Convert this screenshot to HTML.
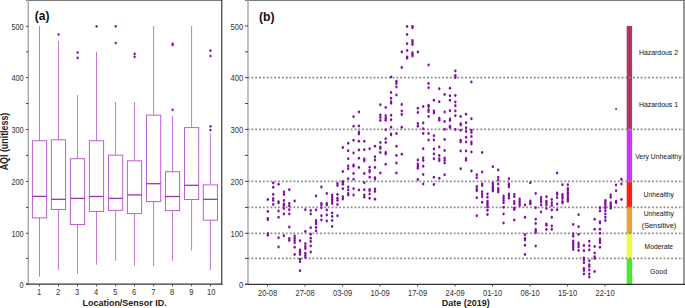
<!DOCTYPE html>
<html><head><meta charset="utf-8"><style>
html,body{margin:0;padding:0;background:#fff;}
body{width:685px;height:308px;overflow:hidden;}
svg{display:block;font-family:"Liberation Sans", sans-serif;}
</style></head><body>
<svg width="685" height="308" viewBox="0 0 685 308">
<rect width="685" height="308" fill="#fff"/>
<line x1="26" y1="0.5" x2="222.4" y2="0.5" stroke="#7a7a7a" stroke-width="1"/>
<line x1="28.3" y1="0" x2="28.3" y2="284.5" stroke="#a6a6a6" stroke-width="1.4"/>
<line x1="221.7" y1="0" x2="221.7" y2="284.8" stroke="#555" stroke-width="1.4"/>
<line x1="26" y1="284.1" x2="222.4" y2="284.1" stroke="#333" stroke-width="1.3"/>
<line x1="26" y1="284.30" x2="28.3" y2="284.30" stroke="#444" stroke-width="1"/>
<text x="23.7" y="288.20" text-anchor="end" font-size="8.7" fill="#333" textLength="4.10" lengthAdjust="spacingAndGlyphs">0</text>
<line x1="26" y1="258.45" x2="28.3" y2="258.45" stroke="#444" stroke-width="1"/>
<line x1="26" y1="233.30" x2="28.3" y2="233.30" stroke="#444" stroke-width="1"/>
<text x="23.7" y="237.20" text-anchor="end" font-size="8.7" fill="#333" textLength="12.30" lengthAdjust="spacingAndGlyphs">100</text>
<line x1="26" y1="207.45" x2="28.3" y2="207.45" stroke="#444" stroke-width="1"/>
<line x1="26" y1="181.40" x2="28.3" y2="181.40" stroke="#444" stroke-width="1"/>
<text x="23.7" y="185.30" text-anchor="end" font-size="8.7" fill="#333" textLength="12.30" lengthAdjust="spacingAndGlyphs">200</text>
<line x1="26" y1="155.40" x2="28.3" y2="155.40" stroke="#444" stroke-width="1"/>
<line x1="26" y1="129.45" x2="28.3" y2="129.45" stroke="#444" stroke-width="1"/>
<text x="23.7" y="133.35" text-anchor="end" font-size="8.7" fill="#333" textLength="12.30" lengthAdjust="spacingAndGlyphs">300</text>
<line x1="26" y1="103.50" x2="28.3" y2="103.50" stroke="#444" stroke-width="1"/>
<line x1="26" y1="77.55" x2="28.3" y2="77.55" stroke="#444" stroke-width="1"/>
<text x="23.7" y="81.45" text-anchor="end" font-size="8.7" fill="#333" textLength="12.30" lengthAdjust="spacingAndGlyphs">400</text>
<line x1="26" y1="51.80" x2="28.3" y2="51.80" stroke="#444" stroke-width="1"/>
<line x1="26" y1="26.30" x2="28.3" y2="26.30" stroke="#444" stroke-width="1"/>
<text x="23.7" y="30.20" text-anchor="end" font-size="8.7" fill="#333" textLength="12.30" lengthAdjust="spacingAndGlyphs">500</text>
<line x1="39.5" y1="284.1" x2="39.5" y2="286.3" stroke="#444" stroke-width="1"/>
<text x="39.15" y="295.2" text-anchor="middle" font-size="8.4" fill="#333" textLength="4.20" lengthAdjust="spacingAndGlyphs">1</text>
<line x1="58.5" y1="284.1" x2="58.5" y2="286.3" stroke="#444" stroke-width="1"/>
<text x="58.15" y="295.2" text-anchor="middle" font-size="8.4" fill="#333" textLength="4.20" lengthAdjust="spacingAndGlyphs">2</text>
<line x1="77.5" y1="284.1" x2="77.5" y2="286.3" stroke="#444" stroke-width="1"/>
<text x="77.15" y="295.2" text-anchor="middle" font-size="8.4" fill="#333" textLength="4.20" lengthAdjust="spacingAndGlyphs">3</text>
<line x1="96.5" y1="284.1" x2="96.5" y2="286.3" stroke="#444" stroke-width="1"/>
<text x="96.15" y="295.2" text-anchor="middle" font-size="8.4" fill="#333" textLength="4.20" lengthAdjust="spacingAndGlyphs">4</text>
<line x1="115.6" y1="284.1" x2="115.6" y2="286.3" stroke="#444" stroke-width="1"/>
<text x="115.25" y="295.2" text-anchor="middle" font-size="8.4" fill="#333" textLength="4.20" lengthAdjust="spacingAndGlyphs">5</text>
<line x1="134.5" y1="284.1" x2="134.5" y2="286.3" stroke="#444" stroke-width="1"/>
<text x="134.15" y="295.2" text-anchor="middle" font-size="8.4" fill="#333" textLength="4.20" lengthAdjust="spacingAndGlyphs">6</text>
<line x1="153.6" y1="284.1" x2="153.6" y2="286.3" stroke="#444" stroke-width="1"/>
<text x="153.25" y="295.2" text-anchor="middle" font-size="8.4" fill="#333" textLength="4.20" lengthAdjust="spacingAndGlyphs">7</text>
<line x1="172.5" y1="284.1" x2="172.5" y2="286.3" stroke="#444" stroke-width="1"/>
<text x="172.15" y="295.2" text-anchor="middle" font-size="8.4" fill="#333" textLength="4.20" lengthAdjust="spacingAndGlyphs">8</text>
<line x1="191.6" y1="284.1" x2="191.6" y2="286.3" stroke="#444" stroke-width="1"/>
<text x="191.25" y="295.2" text-anchor="middle" font-size="8.4" fill="#333" textLength="4.20" lengthAdjust="spacingAndGlyphs">9</text>
<line x1="210.4" y1="284.1" x2="210.4" y2="286.3" stroke="#444" stroke-width="1"/>
<text x="211.25" y="295.2" text-anchor="middle" font-size="8.4" fill="#333" textLength="8.40" lengthAdjust="spacingAndGlyphs">10</text>
<line x1="39.5" y1="26.1" x2="39.5" y2="140.4" stroke="#c27ad4" stroke-width="1"/>
<line x1="39.5" y1="217.6" x2="39.5" y2="276.7" stroke="#c27ad4" stroke-width="1"/>
<rect x="32.40" y="140.70" width="14.2" height="77.20" fill="none" stroke="#b960cd" stroke-width="1"/>
<line x1="32.40" y1="196.40" x2="46.60" y2="196.40" stroke="#9434b4" stroke-width="1.3"/>
<line x1="58.5" y1="40.9" x2="58.5" y2="139.5" stroke="#c27ad4" stroke-width="1"/>
<line x1="58.5" y1="209.2" x2="58.5" y2="269.8" stroke="#c27ad4" stroke-width="1"/>
<rect x="51.40" y="139.80" width="14.2" height="69.70" fill="none" stroke="#b960cd" stroke-width="1"/>
<line x1="51.40" y1="199.30" x2="65.60" y2="199.30" stroke="#9434b4" stroke-width="1.3"/>
<ellipse cx="58.60" cy="34.5" rx="1.15" ry="1.35" fill="#8210a2"/>
<line x1="77.5" y1="95.1" x2="77.5" y2="158.4" stroke="#c27ad4" stroke-width="1"/>
<line x1="77.5" y1="224.2" x2="77.5" y2="273.7" stroke="#c27ad4" stroke-width="1"/>
<rect x="70.40" y="158.70" width="14.2" height="65.80" fill="none" stroke="#b960cd" stroke-width="1"/>
<line x1="70.40" y1="198.40" x2="84.60" y2="198.40" stroke="#9434b4" stroke-width="1.3"/>
<ellipse cx="77.60" cy="52.5" rx="1.15" ry="1.35" fill="#8210a2"/>
<ellipse cx="77.60" cy="57.9" rx="1.15" ry="1.35" fill="#8210a2"/>
<line x1="96.5" y1="51.9" x2="96.5" y2="140.4" stroke="#c27ad4" stroke-width="1"/>
<line x1="96.5" y1="211.1" x2="96.5" y2="264.7" stroke="#c27ad4" stroke-width="1"/>
<rect x="89.40" y="140.70" width="14.2" height="70.70" fill="none" stroke="#b960cd" stroke-width="1"/>
<line x1="89.40" y1="196.50" x2="103.60" y2="196.50" stroke="#9434b4" stroke-width="1.3"/>
<ellipse cx="96.60" cy="26.3" rx="1.15" ry="1.35" fill="#8210a2"/>
<line x1="115.6" y1="102.0" x2="115.6" y2="154.8" stroke="#c27ad4" stroke-width="1"/>
<line x1="115.6" y1="210.1" x2="115.6" y2="260.9" stroke="#c27ad4" stroke-width="1"/>
<rect x="108.50" y="155.10" width="14.2" height="55.30" fill="none" stroke="#b960cd" stroke-width="1"/>
<line x1="108.50" y1="198.40" x2="122.70" y2="198.40" stroke="#9434b4" stroke-width="1.3"/>
<ellipse cx="115.70" cy="26.3" rx="1.15" ry="1.35" fill="#8210a2"/>
<ellipse cx="115.70" cy="43.0" rx="1.15" ry="1.35" fill="#8210a2"/>
<line x1="134.5" y1="102.0" x2="134.5" y2="160.5" stroke="#c27ad4" stroke-width="1"/>
<line x1="134.5" y1="213.3" x2="134.5" y2="265.7" stroke="#c27ad4" stroke-width="1"/>
<rect x="127.40" y="160.80" width="14.2" height="52.80" fill="none" stroke="#b960cd" stroke-width="1"/>
<line x1="127.40" y1="194.90" x2="141.60" y2="194.90" stroke="#9434b4" stroke-width="1.3"/>
<ellipse cx="134.60" cy="53.9" rx="1.15" ry="1.35" fill="#8210a2"/>
<ellipse cx="134.60" cy="56.8" rx="1.15" ry="1.35" fill="#8210a2"/>
<line x1="153.6" y1="26.1" x2="153.6" y2="114.8" stroke="#c27ad4" stroke-width="1"/>
<line x1="153.6" y1="201.3" x2="153.6" y2="266.0" stroke="#c27ad4" stroke-width="1"/>
<rect x="146.50" y="115.10" width="14.2" height="86.50" fill="none" stroke="#b960cd" stroke-width="1"/>
<line x1="146.50" y1="183.70" x2="160.70" y2="183.70" stroke="#9434b4" stroke-width="1.3"/>
<line x1="172.5" y1="115.8" x2="172.5" y2="171.4" stroke="#c27ad4" stroke-width="1"/>
<line x1="172.5" y1="210.3" x2="172.5" y2="260.9" stroke="#c27ad4" stroke-width="1"/>
<rect x="165.40" y="171.70" width="14.2" height="38.90" fill="none" stroke="#b960cd" stroke-width="1"/>
<line x1="165.40" y1="196.50" x2="179.60" y2="196.50" stroke="#9434b4" stroke-width="1.3"/>
<ellipse cx="172.60" cy="43.8" rx="1.15" ry="1.35" fill="#8210a2"/>
<ellipse cx="172.60" cy="45.0" rx="1.15" ry="1.35" fill="#8210a2"/>
<ellipse cx="172.60" cy="109.8" rx="1.15" ry="1.35" fill="#8210a2"/>
<line x1="191.6" y1="26.1" x2="191.6" y2="127.3" stroke="#c27ad4" stroke-width="1"/>
<line x1="191.6" y1="199.2" x2="191.6" y2="250.6" stroke="#c27ad4" stroke-width="1"/>
<rect x="184.50" y="127.60" width="14.2" height="71.90" fill="none" stroke="#b960cd" stroke-width="1"/>
<line x1="184.50" y1="185.30" x2="198.70" y2="185.30" stroke="#9434b4" stroke-width="1.3"/>
<line x1="210.4" y1="133.3" x2="210.4" y2="184.6" stroke="#c27ad4" stroke-width="1"/>
<line x1="210.4" y1="219.9" x2="210.4" y2="270.1" stroke="#c27ad4" stroke-width="1"/>
<rect x="203.30" y="184.90" width="14.2" height="35.30" fill="none" stroke="#b960cd" stroke-width="1"/>
<line x1="203.30" y1="199.30" x2="217.50" y2="199.30" stroke="#9434b4" stroke-width="1.3"/>
<ellipse cx="210.50" cy="50.7" rx="1.15" ry="1.35" fill="#8210a2"/>
<ellipse cx="210.50" cy="56.0" rx="1.15" ry="1.35" fill="#8210a2"/>
<ellipse cx="210.50" cy="126.3" rx="1.15" ry="1.35" fill="#8210a2"/>
<ellipse cx="210.50" cy="130.1" rx="1.15" ry="1.35" fill="#8210a2"/>
<text x="34.8" y="19.6" font-size="12" font-weight="bold" fill="#111" textLength="14.6" lengthAdjust="spacingAndGlyphs">(a)</text>
<text x="82.5" y="306.1" font-size="9.8" font-weight="bold" fill="#222" textLength="84.2" lengthAdjust="spacingAndGlyphs">Location/Sensor ID.</text>
<text transform="translate(7.5,170.3) rotate(-90)" x="0" y="0" font-size="10" font-weight="bold" fill="#222" textLength="57.6" lengthAdjust="spacingAndGlyphs">AQI (unitless)</text>
<line x1="245" y1="0.5" x2="685" y2="0.5" stroke="#7a7a7a" stroke-width="1"/>
<line x1="248" y1="0" x2="248" y2="284.5" stroke="#a6a6a6" stroke-width="1.4"/>
<line x1="684" y1="0" x2="684" y2="285" stroke="#808080" stroke-width="1.6"/>
<rect x="626.7" y="258.45" width="5.4" height="25.85" fill="#44ee22"/>
<rect x="626.7" y="233.30" width="5.4" height="25.15" fill="#eeff33"/>
<rect x="626.7" y="207.45" width="5.4" height="25.85" fill="#eea030"/>
<rect x="626.7" y="181.40" width="5.4" height="26.05" fill="#ff2010"/>
<rect x="626.7" y="129.45" width="5.4" height="51.95" fill="#cc33ff"/>
<rect x="626.7" y="25.95" width="5.4" height="103.50" fill="#b33366"/>
<line x1="247.6" y1="258.45" x2="683.2" y2="258.45" stroke="#8e8e8e" stroke-width="1.7" stroke-dasharray="1.9 1.9155"/>
<line x1="247.6" y1="233.30" x2="683.2" y2="233.30" stroke="#8e8e8e" stroke-width="1.7" stroke-dasharray="1.9 1.9155"/>
<line x1="247.6" y1="207.45" x2="683.2" y2="207.45" stroke="#8e8e8e" stroke-width="1.7" stroke-dasharray="1.9 1.9155"/>
<line x1="247.6" y1="181.40" x2="683.2" y2="181.40" stroke="#8e8e8e" stroke-width="1.7" stroke-dasharray="1.9 1.9155"/>
<line x1="247.6" y1="129.45" x2="683.2" y2="129.45" stroke="#8e8e8e" stroke-width="1.7" stroke-dasharray="1.9 1.9155"/>
<line x1="247.6" y1="77.64" x2="683.2" y2="77.64" stroke="#8e8e8e" stroke-width="1.7" stroke-dasharray="1.9 1.9155"/>
<line x1="245" y1="284.4" x2="685" y2="284.4" stroke="#333" stroke-width="1.3"/>
<line x1="245" y1="284.30" x2="248" y2="284.30" stroke="#444" stroke-width="1"/>
<text x="243.1" y="287.90" text-anchor="end" font-size="8.2" fill="#333" textLength="4.20" lengthAdjust="spacingAndGlyphs">0</text>
<line x1="245" y1="258.45" x2="248" y2="258.45" stroke="#444" stroke-width="1"/>
<line x1="245" y1="233.30" x2="248" y2="233.30" stroke="#444" stroke-width="1"/>
<text x="243.1" y="236.90" text-anchor="end" font-size="8.2" fill="#333" textLength="12.60" lengthAdjust="spacingAndGlyphs">100</text>
<line x1="245" y1="207.45" x2="248" y2="207.45" stroke="#444" stroke-width="1"/>
<line x1="245" y1="181.40" x2="248" y2="181.40" stroke="#444" stroke-width="1"/>
<text x="243.1" y="185.00" text-anchor="end" font-size="8.2" fill="#333" textLength="12.60" lengthAdjust="spacingAndGlyphs">200</text>
<line x1="245" y1="155.40" x2="248" y2="155.40" stroke="#444" stroke-width="1"/>
<line x1="245" y1="129.45" x2="248" y2="129.45" stroke="#444" stroke-width="1"/>
<text x="243.1" y="133.05" text-anchor="end" font-size="8.2" fill="#333" textLength="12.60" lengthAdjust="spacingAndGlyphs">300</text>
<line x1="245" y1="103.50" x2="248" y2="103.50" stroke="#444" stroke-width="1"/>
<line x1="245" y1="77.64" x2="248" y2="77.64" stroke="#444" stroke-width="1"/>
<text x="243.1" y="81.24" text-anchor="end" font-size="8.2" fill="#333" textLength="12.60" lengthAdjust="spacingAndGlyphs">400</text>
<line x1="245" y1="51.80" x2="248" y2="51.80" stroke="#444" stroke-width="1"/>
<line x1="245" y1="25.95" x2="248" y2="25.95" stroke="#444" stroke-width="1"/>
<text x="243.1" y="29.55" text-anchor="end" font-size="8.2" fill="#333" textLength="12.60" lengthAdjust="spacingAndGlyphs">500</text>
<line x1="267.60" y1="284.4" x2="267.60" y2="286.5" stroke="#444" stroke-width="1"/>
<text x="267.60" y="295.6" text-anchor="middle" font-size="8.6" fill="#333" textLength="19.3" lengthAdjust="spacingAndGlyphs">20-08</text>
<line x1="305.10" y1="284.4" x2="305.10" y2="286.5" stroke="#444" stroke-width="1"/>
<text x="305.10" y="295.6" text-anchor="middle" font-size="8.6" fill="#333" textLength="19.3" lengthAdjust="spacingAndGlyphs">27-08</text>
<line x1="342.60" y1="284.4" x2="342.60" y2="286.5" stroke="#444" stroke-width="1"/>
<text x="342.60" y="295.6" text-anchor="middle" font-size="8.6" fill="#333" textLength="19.3" lengthAdjust="spacingAndGlyphs">03-09</text>
<line x1="380.10" y1="284.4" x2="380.10" y2="286.5" stroke="#444" stroke-width="1"/>
<text x="380.10" y="295.6" text-anchor="middle" font-size="8.6" fill="#333" textLength="19.3" lengthAdjust="spacingAndGlyphs">10-09</text>
<line x1="417.60" y1="284.4" x2="417.60" y2="286.5" stroke="#444" stroke-width="1"/>
<text x="417.60" y="295.6" text-anchor="middle" font-size="8.6" fill="#333" textLength="19.3" lengthAdjust="spacingAndGlyphs">17-09</text>
<line x1="455.10" y1="284.4" x2="455.10" y2="286.5" stroke="#444" stroke-width="1"/>
<text x="455.10" y="295.6" text-anchor="middle" font-size="8.6" fill="#333" textLength="19.3" lengthAdjust="spacingAndGlyphs">24-09</text>
<line x1="492.59" y1="284.4" x2="492.59" y2="286.5" stroke="#444" stroke-width="1"/>
<text x="492.59" y="295.6" text-anchor="middle" font-size="8.6" fill="#333" textLength="19.3" lengthAdjust="spacingAndGlyphs">01-10</text>
<line x1="530.09" y1="284.4" x2="530.09" y2="286.5" stroke="#444" stroke-width="1"/>
<text x="530.09" y="295.6" text-anchor="middle" font-size="8.6" fill="#333" textLength="19.3" lengthAdjust="spacingAndGlyphs">08-10</text>
<line x1="567.59" y1="284.4" x2="567.59" y2="286.5" stroke="#444" stroke-width="1"/>
<text x="567.59" y="295.6" text-anchor="middle" font-size="8.6" fill="#333" textLength="19.3" lengthAdjust="spacingAndGlyphs">15-10</text>
<line x1="605.09" y1="284.4" x2="605.09" y2="286.5" stroke="#444" stroke-width="1"/>
<text x="605.09" y="295.6" text-anchor="middle" font-size="8.6" fill="#333" textLength="19.3" lengthAdjust="spacingAndGlyphs">22-10</text>
<text x="258.9" y="20.9" font-size="12" font-weight="bold" fill="#111" textLength="15.6" lengthAdjust="spacingAndGlyphs">(b)</text>
<text x="441.8" y="306.1" font-size="9.8" font-weight="bold" fill="#222" textLength="48" lengthAdjust="spacingAndGlyphs">Date (2019)</text>
<text x="658.5" y="54.9" text-anchor="middle" font-size="7.9" fill="#111" textLength="39.2" lengthAdjust="spacingAndGlyphs">Hazardous 2</text>
<text x="658.5" y="107.2" text-anchor="middle" font-size="7.9" fill="#111" textLength="39.2" lengthAdjust="spacingAndGlyphs">Hazardous 1</text>
<text x="658.4" y="158.6" text-anchor="middle" font-size="7.9" fill="#111" textLength="46.4" lengthAdjust="spacingAndGlyphs">Very Unhealthy</text>
<text x="658.8" y="197.2" text-anchor="middle" font-size="7.9" fill="#111" textLength="30.4" lengthAdjust="spacingAndGlyphs">Unhealthy</text>
<text x="658.8" y="215.6" text-anchor="middle" font-size="7.9" fill="#111" textLength="30.2" lengthAdjust="spacingAndGlyphs">Unhealthy</text>
<text x="659.0" y="227.9" text-anchor="middle" font-size="7.9" fill="#111" textLength="34.6" lengthAdjust="spacingAndGlyphs">(Sensitive)</text>
<text x="658.8" y="249.2" text-anchor="middle" font-size="7.9" fill="#111" textLength="28.4" lengthAdjust="spacingAndGlyphs">Moderate</text>
<text x="658.6" y="274.3" text-anchor="middle" font-size="7.9" fill="#111" textLength="17.0" lengthAdjust="spacingAndGlyphs">Good</text>
<ellipse cx="267.85" cy="199.4" rx="1.20" ry="1.49" fill="#8210a2"/>
<ellipse cx="267.85" cy="211.4" rx="1.20" ry="1.49" fill="#8210a2"/>
<ellipse cx="267.85" cy="218.6" rx="1.20" ry="1.49" fill="#8210a2"/>
<ellipse cx="267.85" cy="219.8" rx="1.20" ry="1.49" fill="#8210a2"/>
<ellipse cx="267.85" cy="233.7" rx="1.20" ry="1.49" fill="#8210a2"/>
<ellipse cx="267.85" cy="235.2" rx="1.20" ry="1.49" fill="#8210a2"/>
<ellipse cx="273.21" cy="183.1" rx="1.20" ry="1.49" fill="#8210a2"/>
<ellipse cx="273.21" cy="187.3" rx="1.20" ry="1.49" fill="#8210a2"/>
<ellipse cx="273.21" cy="194.6" rx="1.20" ry="1.49" fill="#8210a2"/>
<ellipse cx="273.21" cy="198.6" rx="1.20" ry="1.49" fill="#8210a2"/>
<ellipse cx="273.21" cy="200.5" rx="1.20" ry="1.49" fill="#8210a2"/>
<ellipse cx="273.21" cy="204.4" rx="1.20" ry="1.49" fill="#8210a2"/>
<ellipse cx="278.56" cy="184.3" rx="1.20" ry="1.49" fill="#8210a2"/>
<ellipse cx="278.56" cy="201.8" rx="1.20" ry="1.49" fill="#8210a2"/>
<ellipse cx="278.56" cy="203" rx="1.20" ry="1.49" fill="#8210a2"/>
<ellipse cx="278.56" cy="211" rx="1.20" ry="1.49" fill="#8210a2"/>
<ellipse cx="278.56" cy="217.3" rx="1.20" ry="1.49" fill="#8210a2"/>
<ellipse cx="278.56" cy="237.8" rx="1.20" ry="1.49" fill="#8210a2"/>
<ellipse cx="278.56" cy="246.9" rx="1.20" ry="1.49" fill="#8210a2"/>
<ellipse cx="283.92" cy="192" rx="1.20" ry="1.49" fill="#8210a2"/>
<ellipse cx="283.92" cy="194.6" rx="1.20" ry="1.49" fill="#8210a2"/>
<ellipse cx="283.92" cy="200.5" rx="1.20" ry="1.49" fill="#8210a2"/>
<ellipse cx="283.92" cy="204.1" rx="1.20" ry="1.49" fill="#8210a2"/>
<ellipse cx="283.92" cy="205.6" rx="1.20" ry="1.49" fill="#8210a2"/>
<ellipse cx="283.92" cy="208.5" rx="1.20" ry="1.49" fill="#8210a2"/>
<ellipse cx="283.92" cy="213.9" rx="1.20" ry="1.49" fill="#8210a2"/>
<ellipse cx="283.92" cy="235.8" rx="1.20" ry="1.49" fill="#8210a2"/>
<ellipse cx="289.28" cy="189.8" rx="1.20" ry="1.49" fill="#8210a2"/>
<ellipse cx="289.28" cy="203.4" rx="1.20" ry="1.49" fill="#8210a2"/>
<ellipse cx="289.28" cy="206" rx="1.20" ry="1.49" fill="#8210a2"/>
<ellipse cx="289.28" cy="209.7" rx="1.20" ry="1.49" fill="#8210a2"/>
<ellipse cx="289.28" cy="213.9" rx="1.20" ry="1.49" fill="#8210a2"/>
<ellipse cx="289.28" cy="227" rx="1.20" ry="1.49" fill="#8210a2"/>
<ellipse cx="289.28" cy="238.6" rx="1.20" ry="1.49" fill="#8210a2"/>
<ellipse cx="289.28" cy="240.5" rx="1.20" ry="1.49" fill="#8210a2"/>
<ellipse cx="294.64" cy="201.1" rx="1.20" ry="1.49" fill="#8210a2"/>
<ellipse cx="294.64" cy="236.1" rx="1.20" ry="1.49" fill="#8210a2"/>
<ellipse cx="294.64" cy="238.3" rx="1.20" ry="1.49" fill="#8210a2"/>
<ellipse cx="294.64" cy="240.5" rx="1.20" ry="1.49" fill="#8210a2"/>
<ellipse cx="294.64" cy="242.7" rx="1.20" ry="1.49" fill="#8210a2"/>
<ellipse cx="294.64" cy="247.3" rx="1.20" ry="1.49" fill="#8210a2"/>
<ellipse cx="294.64" cy="254.5" rx="1.20" ry="1.49" fill="#8210a2"/>
<ellipse cx="299.99" cy="240.8" rx="1.20" ry="1.49" fill="#8210a2"/>
<ellipse cx="299.99" cy="250" rx="1.20" ry="1.49" fill="#8210a2"/>
<ellipse cx="299.99" cy="252.2" rx="1.20" ry="1.49" fill="#8210a2"/>
<ellipse cx="299.99" cy="254.4" rx="1.20" ry="1.49" fill="#8210a2"/>
<ellipse cx="299.99" cy="259.2" rx="1.20" ry="1.49" fill="#8210a2"/>
<ellipse cx="299.99" cy="261.7" rx="1.20" ry="1.49" fill="#8210a2"/>
<ellipse cx="299.99" cy="270.7" rx="1.20" ry="1.49" fill="#8210a2"/>
<ellipse cx="305.35" cy="209.7" rx="1.20" ry="1.49" fill="#8210a2"/>
<ellipse cx="305.35" cy="231.4" rx="1.20" ry="1.49" fill="#8210a2"/>
<ellipse cx="305.35" cy="243.7" rx="1.20" ry="1.49" fill="#8210a2"/>
<ellipse cx="305.35" cy="246.6" rx="1.20" ry="1.49" fill="#8210a2"/>
<ellipse cx="305.35" cy="248.4" rx="1.20" ry="1.49" fill="#8210a2"/>
<ellipse cx="305.35" cy="253.3" rx="1.20" ry="1.49" fill="#8210a2"/>
<ellipse cx="305.35" cy="255.5" rx="1.20" ry="1.49" fill="#8210a2"/>
<ellipse cx="305.35" cy="257.4" rx="1.20" ry="1.49" fill="#8210a2"/>
<ellipse cx="310.71" cy="210.4" rx="1.20" ry="1.49" fill="#8210a2"/>
<ellipse cx="310.71" cy="213.9" rx="1.20" ry="1.49" fill="#8210a2"/>
<ellipse cx="310.71" cy="227.7" rx="1.20" ry="1.49" fill="#8210a2"/>
<ellipse cx="310.71" cy="234.3" rx="1.20" ry="1.49" fill="#8210a2"/>
<ellipse cx="310.71" cy="238.3" rx="1.20" ry="1.49" fill="#8210a2"/>
<ellipse cx="310.71" cy="241.6" rx="1.20" ry="1.49" fill="#8210a2"/>
<ellipse cx="310.71" cy="246" rx="1.20" ry="1.49" fill="#8210a2"/>
<ellipse cx="310.71" cy="251.9" rx="1.20" ry="1.49" fill="#8210a2"/>
<ellipse cx="316.06" cy="196.1" rx="1.20" ry="1.49" fill="#8210a2"/>
<ellipse cx="316.06" cy="210" rx="1.20" ry="1.49" fill="#8210a2"/>
<ellipse cx="316.06" cy="220.6" rx="1.20" ry="1.49" fill="#8210a2"/>
<ellipse cx="316.06" cy="222.4" rx="1.20" ry="1.49" fill="#8210a2"/>
<ellipse cx="316.06" cy="223.9" rx="1.20" ry="1.49" fill="#8210a2"/>
<ellipse cx="316.06" cy="227.6" rx="1.20" ry="1.49" fill="#8210a2"/>
<ellipse cx="316.06" cy="231" rx="1.20" ry="1.49" fill="#8210a2"/>
<ellipse cx="321.42" cy="187" rx="1.20" ry="1.49" fill="#8210a2"/>
<ellipse cx="321.42" cy="203.4" rx="1.20" ry="1.49" fill="#8210a2"/>
<ellipse cx="321.42" cy="205.1" rx="1.20" ry="1.49" fill="#8210a2"/>
<ellipse cx="321.42" cy="207.8" rx="1.20" ry="1.49" fill="#8210a2"/>
<ellipse cx="321.42" cy="215.8" rx="1.20" ry="1.49" fill="#8210a2"/>
<ellipse cx="321.42" cy="219.9" rx="1.20" ry="1.49" fill="#8210a2"/>
<ellipse cx="326.78" cy="193.5" rx="1.20" ry="1.49" fill="#8210a2"/>
<ellipse cx="326.78" cy="203.4" rx="1.20" ry="1.49" fill="#8210a2"/>
<ellipse cx="326.78" cy="205.1" rx="1.20" ry="1.49" fill="#8210a2"/>
<ellipse cx="326.78" cy="210" rx="1.20" ry="1.49" fill="#8210a2"/>
<ellipse cx="326.78" cy="215.1" rx="1.20" ry="1.49" fill="#8210a2"/>
<ellipse cx="326.78" cy="220.9" rx="1.20" ry="1.49" fill="#8210a2"/>
<ellipse cx="332.13" cy="195.1" rx="1.20" ry="1.49" fill="#8210a2"/>
<ellipse cx="332.13" cy="197.3" rx="1.20" ry="1.49" fill="#8210a2"/>
<ellipse cx="332.13" cy="199.4" rx="1.20" ry="1.49" fill="#8210a2"/>
<ellipse cx="332.13" cy="201.6" rx="1.20" ry="1.49" fill="#8210a2"/>
<ellipse cx="332.13" cy="203.4" rx="1.20" ry="1.49" fill="#8210a2"/>
<ellipse cx="332.13" cy="212.9" rx="1.20" ry="1.49" fill="#8210a2"/>
<ellipse cx="332.13" cy="216.5" rx="1.20" ry="1.49" fill="#8210a2"/>
<ellipse cx="332.13" cy="220.6" rx="1.20" ry="1.49" fill="#8210a2"/>
<ellipse cx="332.13" cy="226.6" rx="1.20" ry="1.49" fill="#8210a2"/>
<ellipse cx="337.49" cy="183.4" rx="1.20" ry="1.49" fill="#8210a2"/>
<ellipse cx="337.49" cy="185.6" rx="1.20" ry="1.49" fill="#8210a2"/>
<ellipse cx="337.49" cy="194.6" rx="1.20" ry="1.49" fill="#8210a2"/>
<ellipse cx="337.49" cy="198.3" rx="1.20" ry="1.49" fill="#8210a2"/>
<ellipse cx="337.49" cy="200.5" rx="1.20" ry="1.49" fill="#8210a2"/>
<ellipse cx="337.49" cy="204.6" rx="1.20" ry="1.49" fill="#8210a2"/>
<ellipse cx="337.49" cy="215.8" rx="1.20" ry="1.49" fill="#8210a2"/>
<ellipse cx="342.85" cy="147.6" rx="1.20" ry="1.49" fill="#8210a2"/>
<ellipse cx="342.85" cy="171.4" rx="1.20" ry="1.49" fill="#8210a2"/>
<ellipse cx="342.85" cy="181.5" rx="1.20" ry="1.49" fill="#8210a2"/>
<ellipse cx="342.85" cy="182.8" rx="1.20" ry="1.49" fill="#8210a2"/>
<ellipse cx="342.85" cy="184.2" rx="1.20" ry="1.49" fill="#8210a2"/>
<ellipse cx="342.85" cy="188.8" rx="1.20" ry="1.49" fill="#8210a2"/>
<ellipse cx="342.85" cy="196.8" rx="1.20" ry="1.49" fill="#8210a2"/>
<ellipse cx="342.85" cy="199" rx="1.20" ry="1.49" fill="#8210a2"/>
<ellipse cx="348.21" cy="143.3" rx="1.20" ry="1.49" fill="#8210a2"/>
<ellipse cx="348.21" cy="150.7" rx="1.20" ry="1.49" fill="#8210a2"/>
<ellipse cx="348.21" cy="158.7" rx="1.20" ry="1.49" fill="#8210a2"/>
<ellipse cx="348.21" cy="165.9" rx="1.20" ry="1.49" fill="#8210a2"/>
<ellipse cx="348.21" cy="168.7" rx="1.20" ry="1.49" fill="#8210a2"/>
<ellipse cx="348.21" cy="178.7" rx="1.20" ry="1.49" fill="#8210a2"/>
<ellipse cx="348.21" cy="186.9" rx="1.20" ry="1.49" fill="#8210a2"/>
<ellipse cx="348.21" cy="189.9" rx="1.20" ry="1.49" fill="#8210a2"/>
<ellipse cx="348.21" cy="193.6" rx="1.20" ry="1.49" fill="#8210a2"/>
<ellipse cx="348.21" cy="194.9" rx="1.20" ry="1.49" fill="#8210a2"/>
<ellipse cx="353.56" cy="116.8" rx="1.20" ry="1.49" fill="#8210a2"/>
<ellipse cx="353.56" cy="126.3" rx="1.20" ry="1.49" fill="#8210a2"/>
<ellipse cx="353.56" cy="140.2" rx="1.20" ry="1.49" fill="#8210a2"/>
<ellipse cx="353.56" cy="152.9" rx="1.20" ry="1.49" fill="#8210a2"/>
<ellipse cx="353.56" cy="164.9" rx="1.20" ry="1.49" fill="#8210a2"/>
<ellipse cx="353.56" cy="166.3" rx="1.20" ry="1.49" fill="#8210a2"/>
<ellipse cx="353.56" cy="173.6" rx="1.20" ry="1.49" fill="#8210a2"/>
<ellipse cx="353.56" cy="179.2" rx="1.20" ry="1.49" fill="#8210a2"/>
<ellipse cx="353.56" cy="188.8" rx="1.20" ry="1.49" fill="#8210a2"/>
<ellipse cx="353.56" cy="194.9" rx="1.20" ry="1.49" fill="#8210a2"/>
<ellipse cx="358.92" cy="112" rx="1.20" ry="1.49" fill="#8210a2"/>
<ellipse cx="358.92" cy="125.9" rx="1.20" ry="1.49" fill="#8210a2"/>
<ellipse cx="358.92" cy="131.9" rx="1.20" ry="1.49" fill="#8210a2"/>
<ellipse cx="358.92" cy="133.9" rx="1.20" ry="1.49" fill="#8210a2"/>
<ellipse cx="358.92" cy="141.2" rx="1.20" ry="1.49" fill="#8210a2"/>
<ellipse cx="358.92" cy="149.9" rx="1.20" ry="1.49" fill="#8210a2"/>
<ellipse cx="358.92" cy="158.3" rx="1.20" ry="1.49" fill="#8210a2"/>
<ellipse cx="358.92" cy="167.5" rx="1.20" ry="1.49" fill="#8210a2"/>
<ellipse cx="358.92" cy="189.9" rx="1.20" ry="1.49" fill="#8210a2"/>
<ellipse cx="364.28" cy="141.2" rx="1.20" ry="1.49" fill="#8210a2"/>
<ellipse cx="364.28" cy="149.8" rx="1.20" ry="1.49" fill="#8210a2"/>
<ellipse cx="364.28" cy="159" rx="1.20" ry="1.49" fill="#8210a2"/>
<ellipse cx="364.28" cy="160.9" rx="1.20" ry="1.49" fill="#8210a2"/>
<ellipse cx="364.28" cy="173.5" rx="1.20" ry="1.49" fill="#8210a2"/>
<ellipse cx="364.28" cy="182.8" rx="1.20" ry="1.49" fill="#8210a2"/>
<ellipse cx="364.28" cy="189.8" rx="1.20" ry="1.49" fill="#8210a2"/>
<ellipse cx="364.28" cy="195" rx="1.20" ry="1.49" fill="#8210a2"/>
<ellipse cx="364.28" cy="197.3" rx="1.20" ry="1.49" fill="#8210a2"/>
<ellipse cx="369.63" cy="148.8" rx="1.20" ry="1.49" fill="#8210a2"/>
<ellipse cx="369.63" cy="167.2" rx="1.20" ry="1.49" fill="#8210a2"/>
<ellipse cx="369.63" cy="170.4" rx="1.20" ry="1.49" fill="#8210a2"/>
<ellipse cx="369.63" cy="171.9" rx="1.20" ry="1.49" fill="#8210a2"/>
<ellipse cx="369.63" cy="177.3" rx="1.20" ry="1.49" fill="#8210a2"/>
<ellipse cx="369.63" cy="189.5" rx="1.20" ry="1.49" fill="#8210a2"/>
<ellipse cx="369.63" cy="190.7" rx="1.20" ry="1.49" fill="#8210a2"/>
<ellipse cx="369.63" cy="193.9" rx="1.20" ry="1.49" fill="#8210a2"/>
<ellipse cx="369.63" cy="198.3" rx="1.20" ry="1.49" fill="#8210a2"/>
<ellipse cx="374.99" cy="146.3" rx="1.20" ry="1.49" fill="#8210a2"/>
<ellipse cx="374.99" cy="156.7" rx="1.20" ry="1.49" fill="#8210a2"/>
<ellipse cx="374.99" cy="160" rx="1.20" ry="1.49" fill="#8210a2"/>
<ellipse cx="374.99" cy="167.6" rx="1.20" ry="1.49" fill="#8210a2"/>
<ellipse cx="374.99" cy="177.7" rx="1.20" ry="1.49" fill="#8210a2"/>
<ellipse cx="374.99" cy="179" rx="1.20" ry="1.49" fill="#8210a2"/>
<ellipse cx="374.99" cy="189.1" rx="1.20" ry="1.49" fill="#8210a2"/>
<ellipse cx="374.99" cy="191.4" rx="1.20" ry="1.49" fill="#8210a2"/>
<ellipse cx="374.99" cy="199.2" rx="1.20" ry="1.49" fill="#8210a2"/>
<ellipse cx="380.35" cy="104.7" rx="1.20" ry="1.49" fill="#8210a2"/>
<ellipse cx="380.35" cy="115.1" rx="1.20" ry="1.49" fill="#8210a2"/>
<ellipse cx="380.35" cy="117.5" rx="1.20" ry="1.49" fill="#8210a2"/>
<ellipse cx="380.35" cy="120.5" rx="1.20" ry="1.49" fill="#8210a2"/>
<ellipse cx="380.35" cy="142.4" rx="1.20" ry="1.49" fill="#8210a2"/>
<ellipse cx="380.35" cy="146.9" rx="1.20" ry="1.49" fill="#8210a2"/>
<ellipse cx="380.35" cy="148.5" rx="1.20" ry="1.49" fill="#8210a2"/>
<ellipse cx="380.35" cy="152.4" rx="1.20" ry="1.49" fill="#8210a2"/>
<ellipse cx="380.35" cy="173" rx="1.20" ry="1.49" fill="#8210a2"/>
<ellipse cx="385.70" cy="107.6" rx="1.20" ry="1.49" fill="#8210a2"/>
<ellipse cx="385.70" cy="115.8" rx="1.20" ry="1.49" fill="#8210a2"/>
<ellipse cx="385.70" cy="118.3" rx="1.20" ry="1.49" fill="#8210a2"/>
<ellipse cx="385.70" cy="120.2" rx="1.20" ry="1.49" fill="#8210a2"/>
<ellipse cx="385.70" cy="129.7" rx="1.20" ry="1.49" fill="#8210a2"/>
<ellipse cx="385.70" cy="138.7" rx="1.20" ry="1.49" fill="#8210a2"/>
<ellipse cx="385.70" cy="142.4" rx="1.20" ry="1.49" fill="#8210a2"/>
<ellipse cx="385.70" cy="152.4" rx="1.20" ry="1.49" fill="#8210a2"/>
<ellipse cx="385.70" cy="153.9" rx="1.20" ry="1.49" fill="#8210a2"/>
<ellipse cx="385.70" cy="164.3" rx="1.20" ry="1.49" fill="#8210a2"/>
<ellipse cx="391.06" cy="77.1" rx="1.20" ry="1.49" fill="#8210a2"/>
<ellipse cx="391.06" cy="92.5" rx="1.20" ry="1.49" fill="#8210a2"/>
<ellipse cx="391.06" cy="98.3" rx="1.20" ry="1.49" fill="#8210a2"/>
<ellipse cx="391.06" cy="101.7" rx="1.20" ry="1.49" fill="#8210a2"/>
<ellipse cx="391.06" cy="103.2" rx="1.20" ry="1.49" fill="#8210a2"/>
<ellipse cx="391.06" cy="115.2" rx="1.20" ry="1.49" fill="#8210a2"/>
<ellipse cx="391.06" cy="119.7" rx="1.20" ry="1.49" fill="#8210a2"/>
<ellipse cx="391.06" cy="127.2" rx="1.20" ry="1.49" fill="#8210a2"/>
<ellipse cx="391.06" cy="134" rx="1.20" ry="1.49" fill="#8210a2"/>
<ellipse cx="391.06" cy="135.1" rx="1.20" ry="1.49" fill="#8210a2"/>
<ellipse cx="396.42" cy="81.2" rx="1.20" ry="1.49" fill="#8210a2"/>
<ellipse cx="396.42" cy="83.5" rx="1.20" ry="1.49" fill="#8210a2"/>
<ellipse cx="396.42" cy="87" rx="1.20" ry="1.49" fill="#8210a2"/>
<ellipse cx="396.42" cy="95.1" rx="1.20" ry="1.49" fill="#8210a2"/>
<ellipse cx="396.42" cy="133.6" rx="1.20" ry="1.49" fill="#8210a2"/>
<ellipse cx="396.42" cy="146.3" rx="1.20" ry="1.49" fill="#8210a2"/>
<ellipse cx="396.42" cy="155.4" rx="1.20" ry="1.49" fill="#8210a2"/>
<ellipse cx="396.42" cy="163" rx="1.20" ry="1.49" fill="#8210a2"/>
<ellipse cx="396.42" cy="173" rx="1.20" ry="1.49" fill="#8210a2"/>
<ellipse cx="401.78" cy="51.9" rx="1.20" ry="1.49" fill="#8210a2"/>
<ellipse cx="401.78" cy="67.6" rx="1.20" ry="1.49" fill="#8210a2"/>
<ellipse cx="401.78" cy="104.6" rx="1.20" ry="1.49" fill="#8210a2"/>
<ellipse cx="401.78" cy="111" rx="1.20" ry="1.49" fill="#8210a2"/>
<ellipse cx="401.78" cy="114.5" rx="1.20" ry="1.49" fill="#8210a2"/>
<ellipse cx="401.78" cy="127.2" rx="1.20" ry="1.49" fill="#8210a2"/>
<ellipse cx="401.78" cy="154.3" rx="1.20" ry="1.49" fill="#8210a2"/>
<ellipse cx="407.13" cy="26.4" rx="1.20" ry="1.49" fill="#8210a2"/>
<ellipse cx="407.13" cy="34.5" rx="1.20" ry="1.49" fill="#8210a2"/>
<ellipse cx="407.13" cy="43.8" rx="1.20" ry="1.49" fill="#8210a2"/>
<ellipse cx="407.13" cy="50.6" rx="1.20" ry="1.49" fill="#8210a2"/>
<ellipse cx="407.13" cy="56.9" rx="1.20" ry="1.49" fill="#8210a2"/>
<ellipse cx="407.13" cy="58.3" rx="1.20" ry="1.49" fill="#8210a2"/>
<ellipse cx="412.49" cy="26.5" rx="1.20" ry="1.49" fill="#8210a2"/>
<ellipse cx="412.49" cy="27.8" rx="1.20" ry="1.49" fill="#8210a2"/>
<ellipse cx="412.49" cy="40.5" rx="1.20" ry="1.49" fill="#8210a2"/>
<ellipse cx="412.49" cy="42.5" rx="1.20" ry="1.49" fill="#8210a2"/>
<ellipse cx="412.49" cy="44.6" rx="1.20" ry="1.49" fill="#8210a2"/>
<ellipse cx="412.49" cy="52.8" rx="1.20" ry="1.49" fill="#8210a2"/>
<ellipse cx="412.49" cy="54.4" rx="1.20" ry="1.49" fill="#8210a2"/>
<ellipse cx="412.49" cy="55.9" rx="1.20" ry="1.49" fill="#8210a2"/>
<ellipse cx="417.85" cy="52" rx="1.20" ry="1.49" fill="#8210a2"/>
<ellipse cx="417.85" cy="108.2" rx="1.20" ry="1.49" fill="#8210a2"/>
<ellipse cx="417.85" cy="112.4" rx="1.20" ry="1.49" fill="#8210a2"/>
<ellipse cx="417.85" cy="123.4" rx="1.20" ry="1.49" fill="#8210a2"/>
<ellipse cx="417.85" cy="126.3" rx="1.20" ry="1.49" fill="#8210a2"/>
<ellipse cx="417.85" cy="160" rx="1.20" ry="1.49" fill="#8210a2"/>
<ellipse cx="417.85" cy="164.1" rx="1.20" ry="1.49" fill="#8210a2"/>
<ellipse cx="417.85" cy="166.3" rx="1.20" ry="1.49" fill="#8210a2"/>
<ellipse cx="417.85" cy="168.2" rx="1.20" ry="1.49" fill="#8210a2"/>
<ellipse cx="417.85" cy="179.5" rx="1.20" ry="1.49" fill="#8210a2"/>
<ellipse cx="423.20" cy="106.4" rx="1.20" ry="1.49" fill="#8210a2"/>
<ellipse cx="423.20" cy="123.1" rx="1.20" ry="1.49" fill="#8210a2"/>
<ellipse cx="423.20" cy="128.7" rx="1.20" ry="1.49" fill="#8210a2"/>
<ellipse cx="423.20" cy="133.5" rx="1.20" ry="1.49" fill="#8210a2"/>
<ellipse cx="423.20" cy="148.8" rx="1.20" ry="1.49" fill="#8210a2"/>
<ellipse cx="423.20" cy="158.1" rx="1.20" ry="1.49" fill="#8210a2"/>
<ellipse cx="423.20" cy="160.5" rx="1.20" ry="1.49" fill="#8210a2"/>
<ellipse cx="423.20" cy="166.3" rx="1.20" ry="1.49" fill="#8210a2"/>
<ellipse cx="423.20" cy="174.4" rx="1.20" ry="1.49" fill="#8210a2"/>
<ellipse cx="423.20" cy="183.9" rx="1.20" ry="1.49" fill="#8210a2"/>
<ellipse cx="428.56" cy="65" rx="1.20" ry="1.49" fill="#8210a2"/>
<ellipse cx="428.56" cy="83.4" rx="1.20" ry="1.49" fill="#8210a2"/>
<ellipse cx="428.56" cy="87.8" rx="1.20" ry="1.49" fill="#8210a2"/>
<ellipse cx="428.56" cy="105.3" rx="1.20" ry="1.49" fill="#8210a2"/>
<ellipse cx="428.56" cy="106.7" rx="1.20" ry="1.49" fill="#8210a2"/>
<ellipse cx="428.56" cy="109.8" rx="1.20" ry="1.49" fill="#8210a2"/>
<ellipse cx="428.56" cy="111.7" rx="1.20" ry="1.49" fill="#8210a2"/>
<ellipse cx="428.56" cy="116.4" rx="1.20" ry="1.49" fill="#8210a2"/>
<ellipse cx="428.56" cy="133.5" rx="1.20" ry="1.49" fill="#8210a2"/>
<ellipse cx="428.56" cy="139.9" rx="1.20" ry="1.49" fill="#8210a2"/>
<ellipse cx="433.92" cy="100.2" rx="1.20" ry="1.49" fill="#8210a2"/>
<ellipse cx="433.92" cy="111" rx="1.20" ry="1.49" fill="#8210a2"/>
<ellipse cx="433.92" cy="112.9" rx="1.20" ry="1.49" fill="#8210a2"/>
<ellipse cx="433.92" cy="135.8" rx="1.20" ry="1.49" fill="#8210a2"/>
<ellipse cx="433.92" cy="139.9" rx="1.20" ry="1.49" fill="#8210a2"/>
<ellipse cx="433.92" cy="149.1" rx="1.20" ry="1.49" fill="#8210a2"/>
<ellipse cx="433.92" cy="153.9" rx="1.20" ry="1.49" fill="#8210a2"/>
<ellipse cx="433.92" cy="158.7" rx="1.20" ry="1.49" fill="#8210a2"/>
<ellipse cx="433.92" cy="177.3" rx="1.20" ry="1.49" fill="#8210a2"/>
<ellipse cx="433.92" cy="184.6" rx="1.20" ry="1.49" fill="#8210a2"/>
<ellipse cx="439.27" cy="88.7" rx="1.20" ry="1.49" fill="#8210a2"/>
<ellipse cx="439.27" cy="101.7" rx="1.20" ry="1.49" fill="#8210a2"/>
<ellipse cx="439.27" cy="118.3" rx="1.20" ry="1.49" fill="#8210a2"/>
<ellipse cx="439.27" cy="120.2" rx="1.20" ry="1.49" fill="#8210a2"/>
<ellipse cx="439.27" cy="147" rx="1.20" ry="1.49" fill="#8210a2"/>
<ellipse cx="439.27" cy="155.4" rx="1.20" ry="1.49" fill="#8210a2"/>
<ellipse cx="439.27" cy="158.7" rx="1.20" ry="1.49" fill="#8210a2"/>
<ellipse cx="439.27" cy="160.8" rx="1.20" ry="1.49" fill="#8210a2"/>
<ellipse cx="439.27" cy="178.3" rx="1.20" ry="1.49" fill="#8210a2"/>
<ellipse cx="444.63" cy="94.6" rx="1.20" ry="1.49" fill="#8210a2"/>
<ellipse cx="444.63" cy="112" rx="1.20" ry="1.49" fill="#8210a2"/>
<ellipse cx="444.63" cy="121.6" rx="1.20" ry="1.49" fill="#8210a2"/>
<ellipse cx="444.63" cy="129.2" rx="1.20" ry="1.49" fill="#8210a2"/>
<ellipse cx="444.63" cy="139.5" rx="1.20" ry="1.49" fill="#8210a2"/>
<ellipse cx="444.63" cy="150.5" rx="1.20" ry="1.49" fill="#8210a2"/>
<ellipse cx="444.63" cy="158" rx="1.20" ry="1.49" fill="#8210a2"/>
<ellipse cx="444.63" cy="160.2" rx="1.20" ry="1.49" fill="#8210a2"/>
<ellipse cx="444.63" cy="163" rx="1.20" ry="1.49" fill="#8210a2"/>
<ellipse cx="444.63" cy="174.8" rx="1.20" ry="1.49" fill="#8210a2"/>
<ellipse cx="449.99" cy="88.2" rx="1.20" ry="1.49" fill="#8210a2"/>
<ellipse cx="449.99" cy="95.8" rx="1.20" ry="1.49" fill="#8210a2"/>
<ellipse cx="449.99" cy="100.2" rx="1.20" ry="1.49" fill="#8210a2"/>
<ellipse cx="449.99" cy="110.7" rx="1.20" ry="1.49" fill="#8210a2"/>
<ellipse cx="449.99" cy="119" rx="1.20" ry="1.49" fill="#8210a2"/>
<ellipse cx="449.99" cy="120.5" rx="1.20" ry="1.49" fill="#8210a2"/>
<ellipse cx="449.99" cy="126.3" rx="1.20" ry="1.49" fill="#8210a2"/>
<ellipse cx="449.99" cy="127.5" rx="1.20" ry="1.49" fill="#8210a2"/>
<ellipse cx="455.35" cy="71.1" rx="1.20" ry="1.49" fill="#8210a2"/>
<ellipse cx="455.35" cy="75.4" rx="1.20" ry="1.49" fill="#8210a2"/>
<ellipse cx="455.35" cy="77.5" rx="1.20" ry="1.49" fill="#8210a2"/>
<ellipse cx="455.35" cy="95.4" rx="1.20" ry="1.49" fill="#8210a2"/>
<ellipse cx="455.35" cy="102.1" rx="1.20" ry="1.49" fill="#8210a2"/>
<ellipse cx="455.35" cy="105.8" rx="1.20" ry="1.49" fill="#8210a2"/>
<ellipse cx="455.35" cy="111" rx="1.20" ry="1.49" fill="#8210a2"/>
<ellipse cx="455.35" cy="115.8" rx="1.20" ry="1.49" fill="#8210a2"/>
<ellipse cx="455.35" cy="129.5" rx="1.20" ry="1.49" fill="#8210a2"/>
<ellipse cx="460.70" cy="116.4" rx="1.20" ry="1.49" fill="#8210a2"/>
<ellipse cx="460.70" cy="123.7" rx="1.20" ry="1.49" fill="#8210a2"/>
<ellipse cx="460.70" cy="125.1" rx="1.20" ry="1.49" fill="#8210a2"/>
<ellipse cx="460.70" cy="130.3" rx="1.20" ry="1.49" fill="#8210a2"/>
<ellipse cx="460.70" cy="140.2" rx="1.20" ry="1.49" fill="#8210a2"/>
<ellipse cx="460.70" cy="142.1" rx="1.20" ry="1.49" fill="#8210a2"/>
<ellipse cx="460.70" cy="151" rx="1.20" ry="1.49" fill="#8210a2"/>
<ellipse cx="460.70" cy="168.8" rx="1.20" ry="1.49" fill="#8210a2"/>
<ellipse cx="466.06" cy="114.2" rx="1.20" ry="1.49" fill="#8210a2"/>
<ellipse cx="466.06" cy="122.7" rx="1.20" ry="1.49" fill="#8210a2"/>
<ellipse cx="466.06" cy="127.8" rx="1.20" ry="1.49" fill="#8210a2"/>
<ellipse cx="466.06" cy="131.4" rx="1.20" ry="1.49" fill="#8210a2"/>
<ellipse cx="466.06" cy="137.3" rx="1.20" ry="1.49" fill="#8210a2"/>
<ellipse cx="466.06" cy="142.1" rx="1.20" ry="1.49" fill="#8210a2"/>
<ellipse cx="466.06" cy="151.1" rx="1.20" ry="1.49" fill="#8210a2"/>
<ellipse cx="466.06" cy="158.6" rx="1.20" ry="1.49" fill="#8210a2"/>
<ellipse cx="466.06" cy="160.3" rx="1.20" ry="1.49" fill="#8210a2"/>
<ellipse cx="471.42" cy="82" rx="1.20" ry="1.49" fill="#8210a2"/>
<ellipse cx="471.42" cy="118.7" rx="1.20" ry="1.49" fill="#8210a2"/>
<ellipse cx="471.42" cy="130.3" rx="1.20" ry="1.49" fill="#8210a2"/>
<ellipse cx="471.42" cy="132.5" rx="1.20" ry="1.49" fill="#8210a2"/>
<ellipse cx="471.42" cy="136.5" rx="1.20" ry="1.49" fill="#8210a2"/>
<ellipse cx="471.42" cy="142" rx="1.20" ry="1.49" fill="#8210a2"/>
<ellipse cx="471.42" cy="143.9" rx="1.20" ry="1.49" fill="#8210a2"/>
<ellipse cx="471.42" cy="152.1" rx="1.20" ry="1.49" fill="#8210a2"/>
<ellipse cx="471.42" cy="171" rx="1.20" ry="1.49" fill="#8210a2"/>
<ellipse cx="476.77" cy="174.8" rx="1.20" ry="1.49" fill="#8210a2"/>
<ellipse cx="476.77" cy="177.7" rx="1.20" ry="1.49" fill="#8210a2"/>
<ellipse cx="476.77" cy="186.6" rx="1.20" ry="1.49" fill="#8210a2"/>
<ellipse cx="476.77" cy="188.8" rx="1.20" ry="1.49" fill="#8210a2"/>
<ellipse cx="476.77" cy="190.7" rx="1.20" ry="1.49" fill="#8210a2"/>
<ellipse cx="476.77" cy="197.8" rx="1.20" ry="1.49" fill="#8210a2"/>
<ellipse cx="476.77" cy="215.8" rx="1.20" ry="1.49" fill="#8210a2"/>
<ellipse cx="482.13" cy="152.4" rx="1.20" ry="1.49" fill="#8210a2"/>
<ellipse cx="482.13" cy="171.9" rx="1.20" ry="1.49" fill="#8210a2"/>
<ellipse cx="482.13" cy="183.9" rx="1.20" ry="1.49" fill="#8210a2"/>
<ellipse cx="482.13" cy="185.6" rx="1.20" ry="1.49" fill="#8210a2"/>
<ellipse cx="482.13" cy="191.7" rx="1.20" ry="1.49" fill="#8210a2"/>
<ellipse cx="482.13" cy="194.6" rx="1.20" ry="1.49" fill="#8210a2"/>
<ellipse cx="482.13" cy="196.8" rx="1.20" ry="1.49" fill="#8210a2"/>
<ellipse cx="482.13" cy="202.2" rx="1.20" ry="1.49" fill="#8210a2"/>
<ellipse cx="487.49" cy="193.9" rx="1.20" ry="1.49" fill="#8210a2"/>
<ellipse cx="487.49" cy="197.3" rx="1.20" ry="1.49" fill="#8210a2"/>
<ellipse cx="487.49" cy="201.2" rx="1.20" ry="1.49" fill="#8210a2"/>
<ellipse cx="487.49" cy="203.4" rx="1.20" ry="1.49" fill="#8210a2"/>
<ellipse cx="487.49" cy="205.1" rx="1.20" ry="1.49" fill="#8210a2"/>
<ellipse cx="487.49" cy="207" rx="1.20" ry="1.49" fill="#8210a2"/>
<ellipse cx="487.49" cy="210.3" rx="1.20" ry="1.49" fill="#8210a2"/>
<ellipse cx="487.49" cy="214.6" rx="1.20" ry="1.49" fill="#8210a2"/>
<ellipse cx="492.84" cy="166.8" rx="1.20" ry="1.49" fill="#8210a2"/>
<ellipse cx="492.84" cy="183.1" rx="1.20" ry="1.49" fill="#8210a2"/>
<ellipse cx="492.84" cy="185.1" rx="1.20" ry="1.49" fill="#8210a2"/>
<ellipse cx="492.84" cy="187.3" rx="1.20" ry="1.49" fill="#8210a2"/>
<ellipse cx="492.84" cy="189.2" rx="1.20" ry="1.49" fill="#8210a2"/>
<ellipse cx="492.84" cy="191.1" rx="1.20" ry="1.49" fill="#8210a2"/>
<ellipse cx="498.20" cy="170.1" rx="1.20" ry="1.49" fill="#8210a2"/>
<ellipse cx="498.20" cy="177.3" rx="1.20" ry="1.49" fill="#8210a2"/>
<ellipse cx="498.20" cy="179.9" rx="1.20" ry="1.49" fill="#8210a2"/>
<ellipse cx="498.20" cy="183.9" rx="1.20" ry="1.49" fill="#8210a2"/>
<ellipse cx="498.20" cy="188.5" rx="1.20" ry="1.49" fill="#8210a2"/>
<ellipse cx="498.20" cy="190.2" rx="1.20" ry="1.49" fill="#8210a2"/>
<ellipse cx="498.20" cy="192.1" rx="1.20" ry="1.49" fill="#8210a2"/>
<ellipse cx="503.56" cy="196.1" rx="1.20" ry="1.49" fill="#8210a2"/>
<ellipse cx="503.56" cy="198.3" rx="1.20" ry="1.49" fill="#8210a2"/>
<ellipse cx="503.56" cy="200.5" rx="1.20" ry="1.49" fill="#8210a2"/>
<ellipse cx="503.56" cy="202.7" rx="1.20" ry="1.49" fill="#8210a2"/>
<ellipse cx="503.56" cy="207.3" rx="1.20" ry="1.49" fill="#8210a2"/>
<ellipse cx="503.56" cy="213.9" rx="1.20" ry="1.49" fill="#8210a2"/>
<ellipse cx="503.56" cy="223.1" rx="1.20" ry="1.49" fill="#8210a2"/>
<ellipse cx="508.92" cy="178.7" rx="1.20" ry="1.49" fill="#8210a2"/>
<ellipse cx="508.92" cy="183.9" rx="1.20" ry="1.49" fill="#8210a2"/>
<ellipse cx="508.92" cy="185.1" rx="1.20" ry="1.49" fill="#8210a2"/>
<ellipse cx="508.92" cy="187" rx="1.20" ry="1.49" fill="#8210a2"/>
<ellipse cx="508.92" cy="193.9" rx="1.20" ry="1.49" fill="#8210a2"/>
<ellipse cx="508.92" cy="196.1" rx="1.20" ry="1.49" fill="#8210a2"/>
<ellipse cx="508.92" cy="198.3" rx="1.20" ry="1.49" fill="#8210a2"/>
<ellipse cx="514.27" cy="194.6" rx="1.20" ry="1.49" fill="#8210a2"/>
<ellipse cx="514.27" cy="196.8" rx="1.20" ry="1.49" fill="#8210a2"/>
<ellipse cx="514.27" cy="201.6" rx="1.20" ry="1.49" fill="#8210a2"/>
<ellipse cx="514.27" cy="203.7" rx="1.20" ry="1.49" fill="#8210a2"/>
<ellipse cx="514.27" cy="208.1" rx="1.20" ry="1.49" fill="#8210a2"/>
<ellipse cx="514.27" cy="209.5" rx="1.20" ry="1.49" fill="#8210a2"/>
<ellipse cx="514.27" cy="219.9" rx="1.20" ry="1.49" fill="#8210a2"/>
<ellipse cx="519.63" cy="199" rx="1.20" ry="1.49" fill="#8210a2"/>
<ellipse cx="519.63" cy="201.2" rx="1.20" ry="1.49" fill="#8210a2"/>
<ellipse cx="519.63" cy="203.4" rx="1.20" ry="1.49" fill="#8210a2"/>
<ellipse cx="519.63" cy="205.6" rx="1.20" ry="1.49" fill="#8210a2"/>
<ellipse cx="524.99" cy="204.9" rx="1.20" ry="1.49" fill="#8210a2"/>
<ellipse cx="524.99" cy="217.3" rx="1.20" ry="1.49" fill="#8210a2"/>
<ellipse cx="524.99" cy="234.7" rx="1.20" ry="1.49" fill="#8210a2"/>
<ellipse cx="524.99" cy="238.4" rx="1.20" ry="1.49" fill="#8210a2"/>
<ellipse cx="524.99" cy="240.1" rx="1.20" ry="1.49" fill="#8210a2"/>
<ellipse cx="524.99" cy="245.3" rx="1.20" ry="1.49" fill="#8210a2"/>
<ellipse cx="524.99" cy="254.5" rx="1.20" ry="1.49" fill="#8210a2"/>
<ellipse cx="530.34" cy="182.8" rx="1.20" ry="1.49" fill="#8210a2"/>
<ellipse cx="530.34" cy="200.9" rx="1.20" ry="1.49" fill="#8210a2"/>
<ellipse cx="530.34" cy="202.7" rx="1.20" ry="1.49" fill="#8210a2"/>
<ellipse cx="530.34" cy="204.1" rx="1.20" ry="1.49" fill="#8210a2"/>
<ellipse cx="535.70" cy="193.5" rx="1.20" ry="1.49" fill="#8210a2"/>
<ellipse cx="535.70" cy="207.8" rx="1.20" ry="1.49" fill="#8210a2"/>
<ellipse cx="535.70" cy="219.2" rx="1.20" ry="1.49" fill="#8210a2"/>
<ellipse cx="535.70" cy="223.6" rx="1.20" ry="1.49" fill="#8210a2"/>
<ellipse cx="535.70" cy="229.6" rx="1.20" ry="1.49" fill="#8210a2"/>
<ellipse cx="535.70" cy="231.1" rx="1.20" ry="1.49" fill="#8210a2"/>
<ellipse cx="535.70" cy="232.5" rx="1.20" ry="1.49" fill="#8210a2"/>
<ellipse cx="535.70" cy="246.1" rx="1.20" ry="1.49" fill="#8210a2"/>
<ellipse cx="541.06" cy="197.5" rx="1.20" ry="1.49" fill="#8210a2"/>
<ellipse cx="541.06" cy="199.7" rx="1.20" ry="1.49" fill="#8210a2"/>
<ellipse cx="541.06" cy="201.9" rx="1.20" ry="1.49" fill="#8210a2"/>
<ellipse cx="541.06" cy="204.9" rx="1.20" ry="1.49" fill="#8210a2"/>
<ellipse cx="541.06" cy="211.9" rx="1.20" ry="1.49" fill="#8210a2"/>
<ellipse cx="546.41" cy="196.8" rx="1.20" ry="1.49" fill="#8210a2"/>
<ellipse cx="546.41" cy="201.2" rx="1.20" ry="1.49" fill="#8210a2"/>
<ellipse cx="546.41" cy="203.1" rx="1.20" ry="1.49" fill="#8210a2"/>
<ellipse cx="546.41" cy="204.9" rx="1.20" ry="1.49" fill="#8210a2"/>
<ellipse cx="546.41" cy="208.5" rx="1.20" ry="1.49" fill="#8210a2"/>
<ellipse cx="546.41" cy="223.9" rx="1.20" ry="1.49" fill="#8210a2"/>
<ellipse cx="546.41" cy="225.2" rx="1.20" ry="1.49" fill="#8210a2"/>
<ellipse cx="546.41" cy="229.6" rx="1.20" ry="1.49" fill="#8210a2"/>
<ellipse cx="551.77" cy="199.4" rx="1.20" ry="1.49" fill="#8210a2"/>
<ellipse cx="551.77" cy="202.7" rx="1.20" ry="1.49" fill="#8210a2"/>
<ellipse cx="551.77" cy="205.6" rx="1.20" ry="1.49" fill="#8210a2"/>
<ellipse cx="551.77" cy="210" rx="1.20" ry="1.49" fill="#8210a2"/>
<ellipse cx="551.77" cy="217.3" rx="1.20" ry="1.49" fill="#8210a2"/>
<ellipse cx="551.77" cy="226" rx="1.20" ry="1.49" fill="#8210a2"/>
<ellipse cx="551.77" cy="229.2" rx="1.20" ry="1.49" fill="#8210a2"/>
<ellipse cx="557.13" cy="173" rx="1.20" ry="1.49" fill="#8210a2"/>
<ellipse cx="557.13" cy="192.9" rx="1.20" ry="1.49" fill="#8210a2"/>
<ellipse cx="557.13" cy="194.6" rx="1.20" ry="1.49" fill="#8210a2"/>
<ellipse cx="557.13" cy="197.8" rx="1.20" ry="1.49" fill="#8210a2"/>
<ellipse cx="557.13" cy="204.1" rx="1.20" ry="1.49" fill="#8210a2"/>
<ellipse cx="557.13" cy="209.7" rx="1.20" ry="1.49" fill="#8210a2"/>
<ellipse cx="562.49" cy="184.7" rx="1.20" ry="1.49" fill="#8210a2"/>
<ellipse cx="562.49" cy="194.6" rx="1.20" ry="1.49" fill="#8210a2"/>
<ellipse cx="562.49" cy="196.5" rx="1.20" ry="1.49" fill="#8210a2"/>
<ellipse cx="562.49" cy="198.6" rx="1.20" ry="1.49" fill="#8210a2"/>
<ellipse cx="562.49" cy="201.6" rx="1.20" ry="1.49" fill="#8210a2"/>
<ellipse cx="562.49" cy="203.1" rx="1.20" ry="1.49" fill="#8210a2"/>
<ellipse cx="567.84" cy="184.7" rx="1.20" ry="1.49" fill="#8210a2"/>
<ellipse cx="567.84" cy="188.5" rx="1.20" ry="1.49" fill="#8210a2"/>
<ellipse cx="567.84" cy="190.5" rx="1.20" ry="1.49" fill="#8210a2"/>
<ellipse cx="567.84" cy="192.7" rx="1.20" ry="1.49" fill="#8210a2"/>
<ellipse cx="567.84" cy="194.8" rx="1.20" ry="1.49" fill="#8210a2"/>
<ellipse cx="567.84" cy="197" rx="1.20" ry="1.49" fill="#8210a2"/>
<ellipse cx="567.84" cy="199.2" rx="1.20" ry="1.49" fill="#8210a2"/>
<ellipse cx="567.84" cy="201.2" rx="1.20" ry="1.49" fill="#8210a2"/>
<ellipse cx="573.20" cy="224.6" rx="1.20" ry="1.49" fill="#8210a2"/>
<ellipse cx="573.20" cy="233.7" rx="1.20" ry="1.49" fill="#8210a2"/>
<ellipse cx="573.20" cy="236.2" rx="1.20" ry="1.49" fill="#8210a2"/>
<ellipse cx="573.20" cy="241" rx="1.20" ry="1.49" fill="#8210a2"/>
<ellipse cx="573.20" cy="243.1" rx="1.20" ry="1.49" fill="#8210a2"/>
<ellipse cx="573.20" cy="245" rx="1.20" ry="1.49" fill="#8210a2"/>
<ellipse cx="573.20" cy="247.2" rx="1.20" ry="1.49" fill="#8210a2"/>
<ellipse cx="573.20" cy="249.4" rx="1.20" ry="1.49" fill="#8210a2"/>
<ellipse cx="578.56" cy="214.8" rx="1.20" ry="1.49" fill="#8210a2"/>
<ellipse cx="578.56" cy="226.7" rx="1.20" ry="1.49" fill="#8210a2"/>
<ellipse cx="578.56" cy="234.4" rx="1.20" ry="1.49" fill="#8210a2"/>
<ellipse cx="578.56" cy="243.1" rx="1.20" ry="1.49" fill="#8210a2"/>
<ellipse cx="578.56" cy="245" rx="1.20" ry="1.49" fill="#8210a2"/>
<ellipse cx="578.56" cy="246.9" rx="1.20" ry="1.49" fill="#8210a2"/>
<ellipse cx="578.56" cy="250.5" rx="1.20" ry="1.49" fill="#8210a2"/>
<ellipse cx="583.91" cy="245.4" rx="1.20" ry="1.49" fill="#8210a2"/>
<ellipse cx="583.91" cy="250.8" rx="1.20" ry="1.49" fill="#8210a2"/>
<ellipse cx="583.91" cy="257.9" rx="1.20" ry="1.49" fill="#8210a2"/>
<ellipse cx="583.91" cy="260.1" rx="1.20" ry="1.49" fill="#8210a2"/>
<ellipse cx="583.91" cy="262.8" rx="1.20" ry="1.49" fill="#8210a2"/>
<ellipse cx="583.91" cy="268.4" rx="1.20" ry="1.49" fill="#8210a2"/>
<ellipse cx="583.91" cy="270.6" rx="1.20" ry="1.49" fill="#8210a2"/>
<ellipse cx="583.91" cy="273.9" rx="1.20" ry="1.49" fill="#8210a2"/>
<ellipse cx="589.27" cy="241.3" rx="1.20" ry="1.49" fill="#8210a2"/>
<ellipse cx="589.27" cy="245.7" rx="1.20" ry="1.49" fill="#8210a2"/>
<ellipse cx="589.27" cy="250.1" rx="1.20" ry="1.49" fill="#8210a2"/>
<ellipse cx="589.27" cy="260.8" rx="1.20" ry="1.49" fill="#8210a2"/>
<ellipse cx="589.27" cy="264.7" rx="1.20" ry="1.49" fill="#8210a2"/>
<ellipse cx="589.27" cy="266.6" rx="1.20" ry="1.49" fill="#8210a2"/>
<ellipse cx="589.27" cy="270.1" rx="1.20" ry="1.49" fill="#8210a2"/>
<ellipse cx="589.27" cy="273.9" rx="1.20" ry="1.49" fill="#8210a2"/>
<ellipse cx="589.27" cy="276.9" rx="1.20" ry="1.49" fill="#8210a2"/>
<ellipse cx="594.63" cy="219.2" rx="1.20" ry="1.49" fill="#8210a2"/>
<ellipse cx="594.63" cy="229.2" rx="1.20" ry="1.49" fill="#8210a2"/>
<ellipse cx="594.63" cy="246.4" rx="1.20" ry="1.49" fill="#8210a2"/>
<ellipse cx="594.63" cy="253" rx="1.20" ry="1.49" fill="#8210a2"/>
<ellipse cx="594.63" cy="256.7" rx="1.20" ry="1.49" fill="#8210a2"/>
<ellipse cx="594.63" cy="258.6" rx="1.20" ry="1.49" fill="#8210a2"/>
<ellipse cx="594.63" cy="271.6" rx="1.20" ry="1.49" fill="#8210a2"/>
<ellipse cx="599.98" cy="207.8" rx="1.20" ry="1.49" fill="#8210a2"/>
<ellipse cx="599.98" cy="211.1" rx="1.20" ry="1.49" fill="#8210a2"/>
<ellipse cx="599.98" cy="221.7" rx="1.20" ry="1.49" fill="#8210a2"/>
<ellipse cx="599.98" cy="223.1" rx="1.20" ry="1.49" fill="#8210a2"/>
<ellipse cx="599.98" cy="229.2" rx="1.20" ry="1.49" fill="#8210a2"/>
<ellipse cx="599.98" cy="233.3" rx="1.20" ry="1.49" fill="#8210a2"/>
<ellipse cx="599.98" cy="239.1" rx="1.20" ry="1.49" fill="#8210a2"/>
<ellipse cx="599.98" cy="241" rx="1.20" ry="1.49" fill="#8210a2"/>
<ellipse cx="599.98" cy="242.8" rx="1.20" ry="1.49" fill="#8210a2"/>
<ellipse cx="599.98" cy="247.2" rx="1.20" ry="1.49" fill="#8210a2"/>
<ellipse cx="605.34" cy="200.5" rx="1.20" ry="1.49" fill="#8210a2"/>
<ellipse cx="605.34" cy="202.2" rx="1.20" ry="1.49" fill="#8210a2"/>
<ellipse cx="605.34" cy="204.1" rx="1.20" ry="1.49" fill="#8210a2"/>
<ellipse cx="605.34" cy="206" rx="1.20" ry="1.49" fill="#8210a2"/>
<ellipse cx="605.34" cy="208.1" rx="1.20" ry="1.49" fill="#8210a2"/>
<ellipse cx="605.34" cy="210.7" rx="1.20" ry="1.49" fill="#8210a2"/>
<ellipse cx="605.34" cy="213.9" rx="1.20" ry="1.49" fill="#8210a2"/>
<ellipse cx="605.34" cy="217.3" rx="1.20" ry="1.49" fill="#8210a2"/>
<ellipse cx="605.34" cy="220.6" rx="1.20" ry="1.49" fill="#8210a2"/>
<ellipse cx="610.70" cy="195.1" rx="1.20" ry="1.49" fill="#8210a2"/>
<ellipse cx="610.70" cy="197.3" rx="1.20" ry="1.49" fill="#8210a2"/>
<ellipse cx="610.70" cy="202.7" rx="1.20" ry="1.49" fill="#8210a2"/>
<ellipse cx="610.70" cy="204.6" rx="1.20" ry="1.49" fill="#8210a2"/>
<ellipse cx="610.70" cy="206.3" rx="1.20" ry="1.49" fill="#8210a2"/>
<ellipse cx="610.70" cy="208.2" rx="1.20" ry="1.49" fill="#8210a2"/>
<ellipse cx="616.06" cy="109.2" rx="0.92" ry="1.15" fill="#8210a2"/>
<ellipse cx="616.06" cy="185.1" rx="1.20" ry="1.49" fill="#8210a2"/>
<ellipse cx="616.06" cy="190.7" rx="1.20" ry="1.49" fill="#8210a2"/>
<ellipse cx="616.06" cy="201.2" rx="1.20" ry="1.49" fill="#8210a2"/>
<ellipse cx="616.06" cy="202.7" rx="1.20" ry="1.49" fill="#8210a2"/>
<ellipse cx="621.41" cy="179.2" rx="1.20" ry="1.49" fill="#8210a2"/>
<ellipse cx="621.41" cy="183.9" rx="1.20" ry="1.49" fill="#8210a2"/>
<ellipse cx="621.41" cy="199.4" rx="1.20" ry="1.49" fill="#8210a2"/>
</svg></body></html>
